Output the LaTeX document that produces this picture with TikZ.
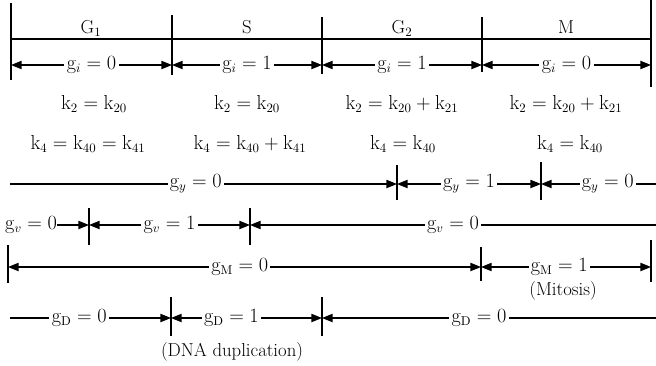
\documentclass[tikz,border=0pt]{standalone}
\usepackage{amsmath,amssymb}
\usepackage{tikz}
\usetikzlibrary{arrows.meta,positioning,calc}

\begin{document}
\begin{tikzpicture}[x=0.03cm,y=-0.03cm,
    font=\fontsize{16}{19}\selectfont,
    >={Triangle[length=9pt,width=7pt]},
    bar/.style={line width=2.4pt},
    axis/.style={line width=1.6pt},
    dim/.style={line width=1pt},
    lab/.style={fill=white,inner sep=2pt}]
  \useasboundingbox (0,0) rectangle (656,365);

  % phases of the cycle
  \draw[bar] (11,3) -- (11,80);
  \draw[bar] (172,15) -- (172,75);
  \draw[bar] (322,17) -- (322,74);
  \draw[bar] (482,17) -- (482,72);
  \draw[bar] (651,0) -- (651,87);
  \coordinate (p0) at (11,39);
  \coordinate (p4) at (651,39);
  \draw[axis] (p0) -- (p4);
  \node[anchor=base] (G1) at (91,33) {G$_1$};
  \node[anchor=base] (S)  at (247,33) {S};
  \node[anchor=base] (G2) at (402,33) {G$_2$};
  \node[anchor=base] (M)  at (566,33) {M};

  % g_i
  \coordinate (i0) at (11,65);
  \coordinate (i1) at (172,65);
  \coordinate (i2) at (322,65);
  \coordinate (i3) at (482,65);
  \coordinate (i4) at (651,65);
  \draw[dim,<->] (i0) -- node[lab] (gi1) {$\mathrm{g}_i=0$} (i1);
  \draw[dim,<->] (i1) -- node[lab] (gi2) {$\mathrm{g}_i=1$} (i2);
  \draw[dim,<->] (i2) -- node[lab] (gi3) {$\mathrm{g}_i=1$} (i3);
  \draw[dim,<->] (i3) -- node[lab] (gi4) {$\mathrm{g}_i=0$} (i4);

  % rate constants
  \node[anchor=base] (k2a) at (94,109)  {$\mathrm{k}_2=\mathrm{k}_{20}$};
  \node[anchor=base] (k2b) at (247,109) {$\mathrm{k}_2=\mathrm{k}_{20}$};
  \node[anchor=base] (k2c) at (402,109) {$\mathrm{k}_2=\mathrm{k}_{20}+\mathrm{k}_{21}$};
  \node[anchor=base] (k2d) at (566,109) {$\mathrm{k}_2=\mathrm{k}_{20}+\mathrm{k}_{21}$};
  \node[anchor=base] (k4a) at (88,149)  {$\mathrm{k}_4=\mathrm{k}_{40}=\mathrm{k}_{41}$};
  \node[anchor=base] (k4b) at (250,149) {$\mathrm{k}_4=\mathrm{k}_{40}+\mathrm{k}_{41}$};
  \node[anchor=base] (k4c) at (403,149) {$\mathrm{k}_4=\mathrm{k}_{40}$};
  \node[anchor=base] (k4d) at (570,149) {$\mathrm{k}_4=\mathrm{k}_{40}$};

  % g_y
  \draw[bar] (397,165) -- (397,200);
  \draw[bar] (541,162) -- (541,200);
  \coordinate (y0) at (10,184);
  \coordinate (y1) at (397,184);
  \coordinate (y2) at (541,184);
  \coordinate (y3) at (656,184);
  \draw[dim,->] (y0) -- node[lab,pos=.48] (gy1) {$\mathrm{g}_y=0$} (y1);
  \draw[dim,<->] (y1) -- node[lab] (gy2) {$\mathrm{g}_y=1$} (y2);
  \draw[dim,<-] (y2) -- node[lab,pos=.58] (gy3) {$\mathrm{g}_y=0$} (y3);

  % g_v
  \draw[bar] (89,208) -- (89,245);
  \draw[bar] (250,208) -- (250,245);
  \coordinate (v1) at (89,225);
  \coordinate (v2) at (250,225);
  \coordinate (v3) at (656,225);
  \node[anchor=west,inner xsep=0pt] (gv1) at (5,225) {$\mathrm{g}_v=0$};
  \draw[dim,->] (gv1) -- (v1);
  \draw[dim,<->] (v1) -- node[lab] (gv2) {$\mathrm{g}_v=1$} (v2);
  \draw[dim,<-] (v2) -- node[lab] (gv3) {$\mathrm{g}_v=0$} (v3);

  % g_M
  \draw[bar] (8,245) -- (8,283);
  \draw[bar] (481,247) -- (481,281);
  \draw[bar] (651,240) -- (651,282);
  \coordinate (m0) at (8,267);
  \coordinate (m1) at (481,267);
  \coordinate (m2) at (651,267);
  \draw[dim,<->] (m0) -- node[lab,pos=.49] (gm1) {$\mathrm{g}_\mathrm{M}=0$} (m1);
  \draw[dim,<->] (m1) -- node[lab,pos=.46] (gm2) {$\mathrm{g}_\mathrm{M}=1$} (m2);
  \node (mit) at (563,291) {(Mitosis)};

  % g_D
  \draw[bar] (171,297) -- (171,336);
  \draw[bar] (322,297) -- (322,336);
  \coordinate (d0) at (10,318);
  \coordinate (d1) at (171,318);
  \coordinate (d2) at (322,318);
  \coordinate (d3) at (656,318);
  \draw[dim,->] (d0) -- node[lab,pos=.43] (gd1) {$\mathrm{g}_\mathrm{D}=0$} (d1);
  \draw[dim,<->] (d1) -- node[lab,pos=.4] (gd2) {$\mathrm{g}_\mathrm{D}=1$} (d2);
  \draw[dim,<-] (d2) -- node[lab,pos=.47] (gd3) {$\mathrm{g}_\mathrm{D}=0$} (d3);
  \node (dna) at (232,352) {(DNA duplication)};
\end{tikzpicture}
\end{document}
